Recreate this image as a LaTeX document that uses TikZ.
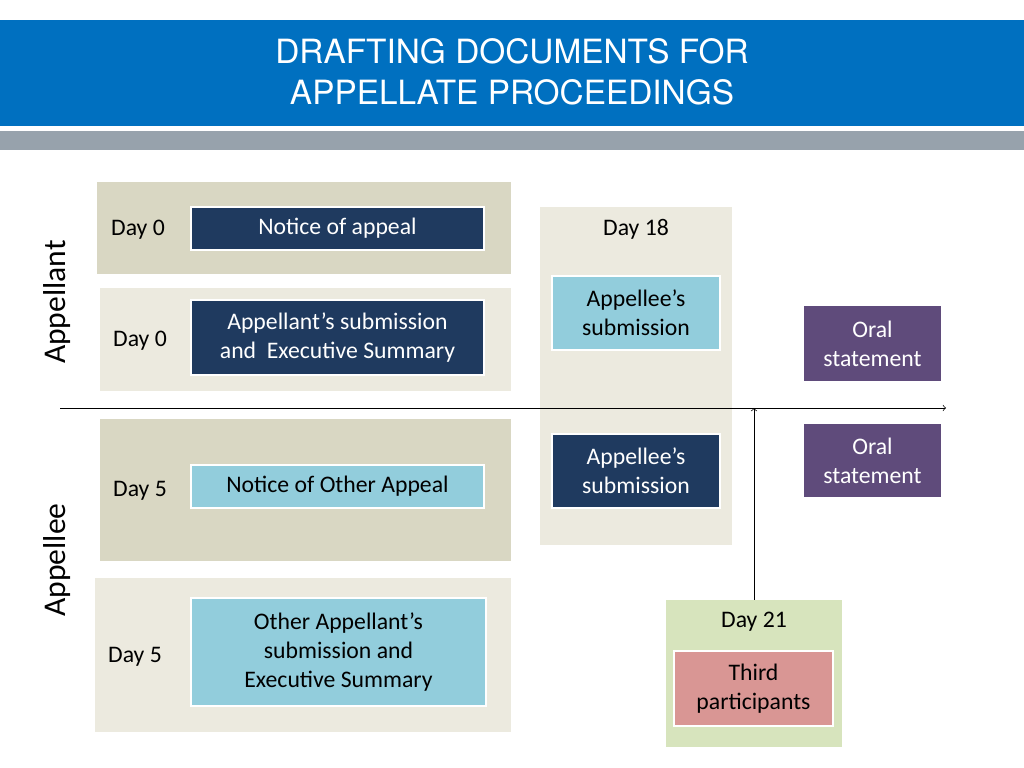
\documentclass[tikz,border=0pt]{standalone}
\usepackage{fontspec}
\setmainfont{Carlito}
\newfontfamily\titlefont{TeX Gyre Heros}
\definecolor{titleblue}{HTML}{0070C0}
\definecolor{bargray}{HTML}{97A2AC}
\definecolor{tan}{HTML}{D9D7C3}
\definecolor{pale}{HTML}{ECEADF}
\definecolor{navy}{HTML}{1F3A5F}
\definecolor{sky}{HTML}{92CDDC}
\definecolor{plum}{HTML}{5F4B7B}
\definecolor{sage}{HTML}{D7E4BD}
\definecolor{rose}{HTML}{D99694}
\begin{document}
\begin{tikzpicture}[x=0.2mm,y=-0.2mm,
                    panel/.style={draw=none},
                    box/.style={draw=white, line width=0.6pt},
                    txt/.style={font=\fontsize{13.5}{16.5}\selectfont, align=center},
                    every edge/.style={draw,->,thin}
                ]
                \useasboundingbox (0,0) rectangle (1024,768);

                % Title
                \fill[titleblue] (0,20) rectangle (1024,126);
                \fill[bargray] (0,131) rectangle (1024,150);
                \node[text=white, font=\titlefont\fontsize{19}{23}\selectfont, align=center] (T) at (512,72) {DRAFTING DOCUMENTS FOR\\APPELLATE PROCEEDINGS};

                % Panels
                \fill[tan] (97,182) rectangle (511,274);
                \fill[pale] (100,288) rectangle (511,391);
                \fill[tan] (100,419) rectangle (511,561);
                \fill[pale] (95,578) rectangle (511,732);
                \fill[pale] (540,207) rectangle (732,545);
                \fill[sage] (666,600) rectangle (842,747);

                % Boxes
                \filldraw[navy, box] (191,207) rectangle (484,250);
                \node[txt, text=white] (A1) at (337.5,228.5) {Notice of appeal};
                \filldraw[navy, box] (191,300) rectangle (484,375);
                \node[txt, text=white] (A2) at (337.5,337.5) {Appellant's submission\\and~ Executive Summary};
                \filldraw[sky, box] (191,465) rectangle (484,508);
                \node[txt] (B1) at (337.5,486.5) {Notice of Other Appeal};
                \filldraw[sky, box] (191,598) rectangle (486,706);
                \node[txt] (B2) at (338.5,652) {Other Appellant's\\submission and\\Executive Summary};
                \filldraw[sky, box] (552,276) rectangle (720,350);
                \node[txt] (C1) at (636,313) {Appellee's\\submission};
                \filldraw[navy, box] (552,434) rectangle (720,508);
                \node[txt, text=white] (C2) at (636,471) {Appellee's\\submission};
                \filldraw[plum, box] (803,305) rectangle (942,382);
                \node[txt, text=white] (O1) at (872.5,343.5) {Oral\\statement};
                \filldraw[plum, box] (803,423) rectangle (942,498);
                \node[txt, text=white] (O2) at (872.5,460.5) {Oral\\statement};
                \filldraw[rose, box] (674,651) rectangle (833,726);
                \node[txt] (P) at (753.5,688.5) {Third\\participants};

                % Days
                \node[txt] (D1) at (138,230) {Day 0};
                \node[txt] (D2) at (140,341) {Day 0};
                \node[txt] (D3) at (140,491) {Day 5};
                \node[txt] (D4) at (135,657) {Day 5};
                \node[txt] (D5) at (636,229) {Day 18};
                \node[txt] (D6) at (754,622) {Day 21};

                % Side labels
                \node[rotate=90, font=\fontsize{18}{22}\selectfont] (L1) at (57,302) {Appellant};
                \node[rotate=90, font=\fontsize{18}{22}\selectfont] (L2) at (57,560) {Appellee};

                % Axis
                \coordinate (X0) at (60,408);
                \coordinate (X1) at (946,408);
                \coordinate (U0) at (754,600);
                \coordinate (U1) at (754,408);
                \draw (X0) edge (X1);
                \draw (U0) edge (U1);
            \end{tikzpicture}
\end{document}
